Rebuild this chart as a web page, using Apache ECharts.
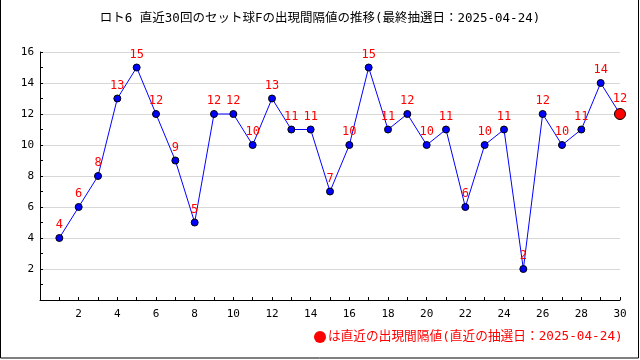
<!DOCTYPE html>
<html><head><meta charset="utf-8">
<script src="https://cdn.jsdelivr.net/npm/echarts@6/dist/echarts.min.js"></script>
<style>html,body{margin:0;padding:0;background:#fff}#c{width:640px;height:360px}</style>
</head><body><div id="c"></div>
<script>
const titleText = 'ロト6 直近30回のセット球Fの出現間隔値の推移(最終抽選日：2025-04-24)';
const footText = 'は直近の出現間隔値(直近の抽選日：2025-04-24)';
const draws = [1,2,3,4,5,6,7,8,9,10,11,12,13,14,15,16,17,18,19,20,21,22,23,24,25,26,27,28,29,30];
const intervals = [4,6,8,13,15,12,9,5,12,12,10,13,11,11,7,10,15,11,12,10,11,6,10,11,2,12,10,11,14,12];
const FONT = '"DejaVu Sans Mono","Noto Sans CJK JP",monospace';
const chart = echarts.init(document.getElementById('c'));
const data = draws.map((d,i)=>{
  const last = i === draws.length-1;
  return {value:[d, intervals[i]], symbolSize: last?11:7,
    itemStyle: last?{color:'#ff0000',borderColor:'#000',borderWidth:1}:{color:'#0000ff',borderColor:'#000',borderWidth:1}};
});
chart.setOption({
  animation:false,
  title:{text:titleText,left:'center',top:7,textStyle:{fontFamily:FONT,fontSize:12.5,fontWeight:'normal',color:'#000'}},
  grid:{left:40,right:20,top:52,bottom:60,containLabel:false},
  xAxis:{type:'value',min:0,max:30,interval:2,
    axisLine:{lineStyle:{color:'#000'}},
    axisTick:{inside:true,length:3,lineStyle:{color:'#000'}},
    minorTick:{show:true,splitNumber:2,length:3,lineStyle:{color:'#000'}},
    axisLabel:{color:'#000',fontFamily:FONT,fontSize:11,margin:9,formatter:v=>v>0?String(v):''},
    splitLine:{show:false}},
  yAxis:{type:'value',min:0,max:16,interval:2,
    axisLine:{show:true,lineStyle:{color:'#000'}},
    axisTick:{show:true,inside:true,length:3,lineStyle:{color:'#000'}},
    minorTick:{show:true,splitNumber:2,length:3,lineStyle:{color:'#000'}},
    axisLabel:{color:'#000',fontFamily:FONT,fontSize:11,margin:6,formatter:v=>v>0?String(v):''},
    splitLine:{show:true,lineStyle:{color:'#d8d8d8'}}},
  series:[{type:'line',data:data,symbol:'circle',lineStyle:{color:'#0000ff',width:1},
    label:{show:true,position:'top',distance:3,color:'#ff0000',fontFamily:FONT,fontSize:12,formatter:p=>String(p.value[1])}}],
  graphic:[
    {type:'rect',shape:{x:0.5,y:-1,width:638,height:359},style:{fill:'none',stroke:'#000',lineWidth:1}},
    {type:'circle',shape:{cx:320,cy:337,r:6},style:{fill:'#ff0000'}},
    {type:'text',x:328,y:337,style:{text:footText,fill:'#ff0000',font:'12.7px '+FONT,textVerticalAlign:'middle'}}
  ]
});
</script></body></html>
